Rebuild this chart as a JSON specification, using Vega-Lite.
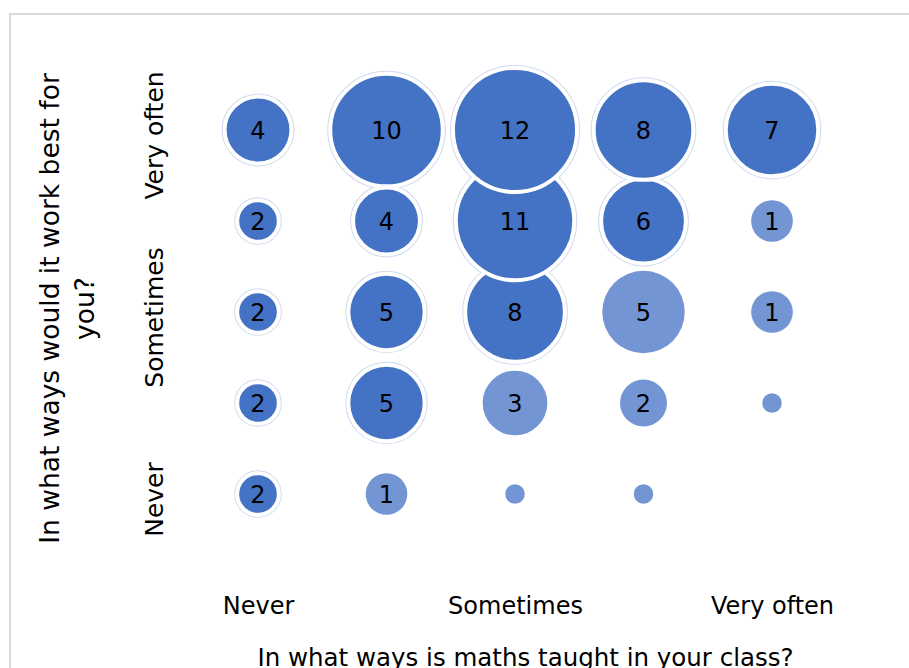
{
  "$schema": "https://vega.github.io/schema/vega-lite/v6.json",
  "width": 910,
  "height": 670,
  "autosize": {"type": "none"},
  "padding": {"left": 10, "top": 14, "right": 0, "bottom": 0},
  "background": "white",
  "config": {
    "view": {"stroke": "#d9d9d9", "strokeWidth": 2},
    "font": "DejaVu Sans"
  },
  "data": {
    "values": [
      {"x": 1, "y": 1, "value": 2, "series": "A"},
      {"x": 2, "y": 1, "value": 1, "series": "B"},
      {"x": 3, "y": 1, "value": 0, "series": "B"},
      {"x": 4, "y": 1, "value": 0, "series": "B"},
      {"x": 1, "y": 2, "value": 2, "series": "A"},
      {"x": 2, "y": 2, "value": 5, "series": "A"},
      {"x": 3, "y": 2, "value": 3, "series": "B"},
      {"x": 4, "y": 2, "value": 2, "series": "B"},
      {"x": 5, "y": 2, "value": 0, "series": "B"},
      {"x": 1, "y": 3, "value": 2, "series": "A"},
      {"x": 2, "y": 3, "value": 5, "series": "A"},
      {"x": 3, "y": 3, "value": 8, "series": "A"},
      {"x": 4, "y": 3, "value": 5, "series": "B"},
      {"x": 5, "y": 3, "value": 1, "series": "B"},
      {"x": 1, "y": 4, "value": 2, "series": "A"},
      {"x": 2, "y": 4, "value": 4, "series": "A"},
      {"x": 3, "y": 4, "value": 11, "series": "A"},
      {"x": 4, "y": 4, "value": 6, "series": "A"},
      {"x": 5, "y": 4, "value": 1, "series": "B"},
      {"x": 1, "y": 5, "value": 4, "series": "A"},
      {"x": 2, "y": 5, "value": 10, "series": "A"},
      {"x": 3, "y": 5, "value": 12, "series": "A"},
      {"x": 4, "y": 5, "value": 8, "series": "A"},
      {"x": 5, "y": 5, "value": 7, "series": "A"}
    ]
  },
  "encoding": {
    "x": {
      "field": "x",
      "type": "quantitative",
      "scale": {"domain": [-0.93, 6.1517], "nice": false, "zero": false},
      "axis": {
        "values": [1, 3, 5],
        "labelExpr": "datum.value == 1 ? 'Never' : datum.value == 3 ? 'Sometimes' : 'Very often'",
        "title": "In what ways is maths taught in your class?",
        "grid": false,
        "domain": false,
        "ticks": false,
        "tickSize": 0,
        "offset": -92,
        "labelPadding": 2,
        "labelFontSize": 24,
        "labelColor": "black",
        "labelOverlap": false,
        "labelFlush": false,
        "titleFontSize": 24.5,
        "titleFontWeight": "normal",
        "titleColor": "black",
        "titlePadding": 28,
        "titleX": 515
      }
    },
    "y": {
      "field": "y",
      "type": "quantitative",
      "scale": {"domain": [-1.0879, 6.2747], "nice": false, "zero": false},
      "axis": {
        "values": [1, 3, 5],
        "labelExpr": "datum.value == 1 ? 'Never' : datum.value == 3 ? 'Sometimes' : 'Very often'",
        "title": ["In what ways would it work best for", "you?"],
        "grid": false,
        "domain": false,
        "ticks": false,
        "tickSize": 0,
        "offset": -157,
        "labelAngle": -90,
        "labelPadding": 0,
        "labelFontSize": 25,
        "labelColor": "black",
        "labelOverlap": false,
        "labelFlush": false,
        "labelOffset": 5,
        "titleFontSize": 26.5,
        "titleFontWeight": "normal",
        "titleColor": "black",
        "titleLineHeight": 35,
        "titleAngle": -90,
        "titleBaseline": "middle",
        "titleAlign": "center",
        "titleX": -117,
        "titleY": 294
      }
    }
  },
  "layer": [
    {
      "transform": [{"filter": "datum.series == 'B'"}],
      "mark": {"type": "circle", "opacity": 1, "color": "#7395D3"},
      "encoding": {
        "size": {
          "field": "value",
          "type": "quantitative",
          "scale": {"domain": [0, 1, 2, 3, 5], "range": [380, 1735, 2206, 4185, 6793]},
          "legend": null
        }
      }
    },
    {
      "transform": [{"filter": "datum.series == 'A'"}],
      "mark": {"type": "point", "shape": "circle", "filled": false, "opacity": 1, "stroke": "#cfdbf1", "strokeWidth": 6},
      "encoding": {
        "size": {
          "field": "value",
          "type": "quantitative",
          "scale": {"domain": [2, 12], "range": [1735, 15394], "zero": false},
          "legend": null
        }
      }
    },
    {
      "transform": [{"filter": "datum.series == 'A'"}],
      "mark": {"type": "circle", "opacity": 1, "fill": "#4472C4", "stroke": "white", "strokeWidth": 4},
      "encoding": {
        "size": {
          "field": "value",
          "type": "quantitative",
          "scale": {"domain": [2, 12], "range": [1735, 15394], "zero": false},
          "legend": null
        }
      }
    },
    {
      "transform": [{"filter": "datum.value > 0"}],
      "mark": {"type": "text", "fontSize": 24, "color": "black", "font": "DejaVu Sans", "dy": 2},
      "encoding": {
        "text": {"field": "value", "type": "quantitative"}
      }
    }
  ],
  "resolve": {"scale": {"size": "independent"}}
}
